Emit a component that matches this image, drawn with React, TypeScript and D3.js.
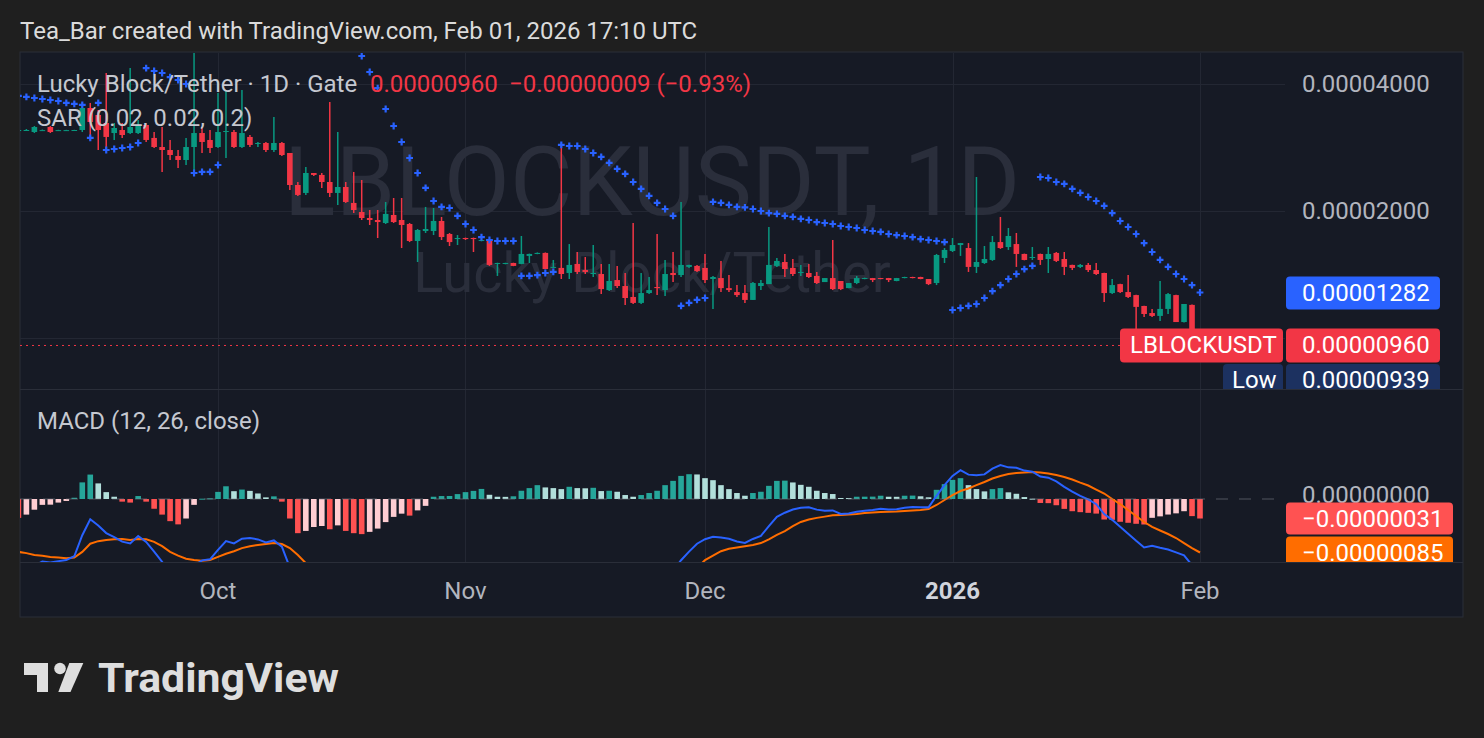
import * as d3 from 'd3';

const W = 1484;
const H = 738;
const PANE = { left: 20, right: 1285, top: 53, mainBottom: 389, macdBottom: 562, bottom: 617, edge: 1463 };

const UP = '#089981';
const DOWN = '#f23645';
const BLUE = '#2962ff';
const ORANGE = '#ff6d00';
const GRID = '#232733';
const TEXT = '#b2b5be';
const FONT = 'Roboto, sans-serif';

// first visible daily bar, 6 Sep 2025
const FIRST_BAR = new Date(Date.UTC(2025, 8, 6));

// [open, high, low, close], prices in 1e-6 USDT
const candles: [number, number, number, number][] = [
  [30.95, 31.29, 30.78, 31.12], [31.03, 31.29, 30.95, 31.12], [30.78, 31.81, 30.61, 31.63], [31.05, 31.2, 31.0, 31.1],
  [31.63, 31.81, 30.61, 30.78], [31.05, 31.15, 31.0, 31.1], [31.05, 31.15, 31.0, 31.1], [31.05, 31.15, 31.0, 31.12],
  [31.12, 36.07, 30.78, 35.09], [35.09, 36.07, 29.47, 32.51], [33.78, 34.71, 27.9, 31.12], [32.33, 42.47, 27.9, 29.96],
  [30.61, 32.33, 29.47, 31.46], [31.12, 32.33, 29.8, 30.28], [30.61, 43.64, 30.45, 31.63], [30.61, 32.86, 30.45, 31.98],
  [31.98, 32.33, 29.15, 29.47], [29.8, 30.78, 28.21, 28.36], [28.36, 31.63, 24.75, 27.9], [27.9, 29.47, 26.42, 27.15],
  [27.0, 27.9, 25.29, 26.42], [26.42, 29.8, 25.71, 28.36], [28.36, 50.86, 24.75, 30.61], [30.61, 31.63, 27.45, 29.15],
  [29.47, 31.12, 27.45, 28.21],
  // Oct
  [28.36, 38.08, 28.21, 30.78], [30.78, 38.71, 26.71, 30.95], [30.78, 31.12, 28.21, 28.36], [28.36, 38.71, 28.21, 30.61],
  [29.96, 30.28, 28.36, 28.68], [28.83, 29.15, 28.36, 28.99], [28.99, 29.15, 27.6, 27.9], [27.9, 33.41, 27.6, 28.99],
  [28.99, 29.15, 27.0, 27.15], [27.45, 27.45, 22.43, 23.05], [23.05, 23.43, 21.71, 21.83], [22.07, 25.43, 21.83, 24.61],
  [24.61, 24.61, 24.21, 24.35], [24.35, 24.61, 22.68, 23.43], [23.43, 36.26, 21.59, 22.07], [22.07, 30.78, 20.67, 22.8],
  [22.8, 23.43, 20.9, 21.01], [20.9, 24.75, 19.78, 20.11], [19.89, 23.69, 19.04, 19.25], [19.25, 20.11, 18.53, 19.04],
  [19.04, 20.11, 17.26, 18.83], [18.73, 21.01, 18.63, 19.68], [19.57, 21.47, 18.73, 18.83], [19.04, 21.47, 16.34, 18.53],
  [18.63, 18.73, 16.88, 16.98], [16.98, 18.13, 15.14, 18.03], [17.93, 20.45, 17.74, 18.13], [17.93, 20.33, 17.54, 18.94],
  [18.94, 19.36, 17.07, 17.35], [17.64, 17.74, 16.52, 16.88], [17.16, 17.54, 16.61, 17.26],
  // Nov
  [17.26, 17.3, 17.07, 17.16], [17.26, 17.3, 15.99, 17.16], [16.98, 17.1, 16.95, 17.07], [16.98, 17.07, 14.82, 14.9],
  [14.98, 15.08, 14.03, 15.06], [14.98, 15.08, 14.95, 15.06], [15.06, 15.08, 14.8, 14.82], [14.98, 17.45, 14.95, 15.82],
  [15.65, 15.85, 15.06, 15.82], [15.82, 15.95, 15.8, 15.91], [15.91, 15.95, 14.55, 14.57], [14.66, 15.31, 14.64, 14.74],
  [14.66, 28.83, 13.8, 14.18], [14.26, 16.7, 13.8, 14.9], [14.98, 15.99, 14.18, 14.34], [14.49, 15.56, 14.18, 14.34],
  [14.18, 16.61, 13.95, 14.26], [14.18, 14.98, 12.71, 13.06], [12.99, 14.98, 12.92, 13.65], [13.72, 14.82, 13.13, 13.28],
  [13.28, 14.26, 11.98, 12.44], [12.51, 18.73, 12.04, 12.11], [12.11, 14.26, 12.04, 12.78], [12.78, 13.95, 12.71, 12.99],
  [13.21, 17.64, 12.64, 13.13], [12.99, 15.31, 12.57, 14.18], [14.26, 15.99, 13.57, 14.1], [14.1, 21.01, 13.95, 14.9],
  [14.74, 14.92, 14.66, 14.9], [14.82, 14.9, 14.34, 14.41],
  // Dec
  [14.66, 15.82, 13.5, 13.72], [13.8, 14.03, 11.72, 13.95], [13.87, 15.23, 12.85, 13.13], [13.13, 14.1, 12.85, 12.99],
  [12.85, 13.35, 12.51, 12.64], [12.78, 13.35, 12.11, 12.31], [12.31, 13.57, 12.31, 13.5], [13.28, 13.72, 12.99, 13.5],
  [13.42, 18.33, 13.42, 14.9], [14.82, 15.48, 14.74, 15.23], [15.14, 15.82, 13.95, 14.57], [14.66, 15.39, 14.03, 14.18],
  [14.26, 14.9, 14.03, 14.34], [14.26, 14.98, 13.87, 13.95], [14.03, 14.34, 13.42, 13.5], [13.57, 13.87, 13.57, 13.87],
  [13.87, 17.07, 12.99, 13.06], [13.65, 13.65, 12.99, 13.06], [13.13, 13.5, 13.13, 13.5], [13.5, 14.03, 13.42, 13.87],
  [13.8, 13.9, 13.78, 13.87], [13.87, 13.88, 13.57, 13.72], [13.87, 13.88, 13.78, 13.8], [13.87, 13.88, 13.57, 13.72],
  [13.65, 13.88, 13.63, 13.87], [13.87, 13.97, 13.85, 13.95], [13.95, 13.97, 13.85, 13.87], [13.95, 13.97, 13.78, 13.8],
  [13.8, 13.8, 13.35, 13.42], [13.5, 15.82, 13.35, 15.73], [15.48, 16.34, 15.06, 16.17],
  // Jan
  [16.08, 17.26, 15.99, 16.61], [16.61, 16.8, 15.65, 16.79], [16.34, 16.79, 14.34, 14.74], [14.74, 24.08, 14.26, 15.14],
  [15.06, 16.52, 14.98, 15.39], [15.31, 17.45, 15.23, 16.88], [16.88, 19.36, 16.26, 16.34], [16.43, 18.23, 16.17, 17.45],
  [16.7, 17.74, 14.74, 15.82], [15.82, 15.85, 15.28, 15.31], [15.48, 16.43, 15.31, 15.56], [15.82, 15.85, 14.9, 15.31],
  [15.39, 16.43, 14.26, 15.82], [15.91, 15.99, 15.14, 15.23], [15.39, 15.99, 14.1, 14.74], [14.9, 14.92, 14.49, 14.66],
  [14.74, 14.98, 14.66, 14.9], [14.9, 15.06, 14.34, 14.49], [14.49, 15.06, 14.1, 14.18], [14.26, 14.28, 12.17, 12.78],
  [12.78, 13.8, 12.71, 13.35], [13.42, 13.44, 12.78, 12.85], [12.85, 14.1, 12.44, 12.51], [12.64, 12.66, 10.17, 11.85],
  [11.91, 11.93, 11.21, 11.4], [11.46, 11.72, 11.21, 11.28], [11.28, 13.65, 10.97, 11.72], [11.72, 12.78, 11.4, 12.71],
  [12.64, 12.66, 10.91, 10.91], [10.91, 12.04, 10.89, 12.04], [11.98, 12.0, 9.45, 9.69],
  // Feb 1
  [9.69, 9.72, 9.39, 9.6],
];

// Parabolic SAR (0.02, 0.02, 0.2), same bars, 1e-6 USDT
const sar = [
  37.47, 37.27, 37.06, 36.86, 36.66, 36.46, 36.07, 35.87, 35.68, 29.8, 36.07, 27.9, 28.05, 28.21, 28.36, 28.99,
  43.64, 42.94, 42.47, 41.55, 40.88, 40.0, 24.61, 24.75, 24.75,
  25.71, 50.9, 50.7, 50.5, 50.3, 50.1, 49.9, 49.7, 49.6, 49.5, 49.4, 49.3, 49.2, 49.1, 49.0, 48.9, 48.8, 48.7,
  46.61, 42.71, 39.13, 34.9, 31.81, 29.15, 26.71, 24.61, 22.68, 21.12, 20.45, 20.33, 19.47, 18.63, 18.03,
  17.35, 17.07, 16.98, 16.98, 16.98, 14.03, 14.03, 14.1, 14.26, 14.34, 28.68, 28.52, 28.52, 28.05, 27.45,
  26.86, 26.0, 25.16, 24.48, 23.43, 22.56, 21.71, 20.9, 20.22, 19.47, 11.91, 12.11, 12.31, 12.44,
  21.01, 20.9, 20.67, 20.45, 20.4, 20.22, 20.0, 19.78, 19.68, 19.47, 19.36, 19.15, 19.04, 18.83, 18.73,
  18.63, 18.43, 18.33, 18.23, 18.03, 17.93, 17.84, 17.64, 17.54, 17.45, 17.35, 17.16, 17.07, 16.98, 16.88,
  11.65, 11.78, 11.91, 12.04, 12.44, 12.92, 13.35, 13.8, 14.18, 14.57, 14.82,
  24.08, 23.95, 23.43, 23.18, 22.56, 22.07, 21.59, 21.12, 20.56, 19.78, 18.94, 18.33, 17.64, 16.79, 15.99,
  15.31, 14.74, 14.18, 13.8, 13.35, 12.82,
];

// MACD (12, 26, close), values in 1e-8
const macdHist = [
  -30, -24.8, -17, -9.3, -9.0, -5.7, -3.1, 2, 26.4, 38.8, 24.8, 10.9, 3.6, -4.2, -5.7, 4.7, -4.2, -15.5, -24.8,
  -35.2, -40.3, -31, -9.3, 0.5, 1.1,
  11.3, 20.2, 12.4, 15, 12.9, 8.8, 2.6, 4.2, -4.2, -31, -54.3, -50.7, -44.5, -42.9, -48.1, -41.9, -50.7, -54.3,
  -55.8, -52.2, -47, -36.7, -28.4, -23.3, -26.4, -18.1, -10.9, 3.6, 4.7, 4.8, 7.8, 10.9, 12.9, 16, 6.7, 3.6,
  3.4, 4.3, 13.1, 17.3, 22, 18.4, 17.3, 15.7, 19.4, 17.3, 17.0, 17.8, 12.6, 13.1, 11.5, 6.3, 3.6, 6.3, 9.5,
  13.1, 22, 28.8, 36.7, 39.4, 39.0, 33.1, 29.9, 22, 15.7, 9.5, 5.2, 9.5, 11.5, 20.9, 28.8, 29.2, 26.3, 22.5,
  19.4, 13.1, 9.5, 7.9, 1.6, 1.5, 3.6, 3.7, 3.8, 5.2, 3.6, 3.5, 5.2, 5.4, 4.3, 2.7, 14.6, 23.6, 30.4, 33.1,
  22, 15.7, 12.1, 15.7, 17.3, 10.6, 8.3, 3.1, 0.5, -6.3, -6.6, -9.9, -15.7, -19.4, -20.9, -22, -23.2, -32.6,
  -33.1, -36.2, -37.8, -39.4, -40.5, -29.9, -27.6, -24.7, -22.8, -19.4, -27.2, -31,
];

const macdSignal = [
  -84, -86, -89, -90, -92, -93, -94, -93, -84, -71, -67, -65, -64, -63.5, -65, -63.5, -64, -68, -75, -84, -90,
  -95, -97, -98, -97,
  -92, -87, -83, -78, -75, -73, -71.5, -70, -71.5, -78, -89, -102, -112, -122, -133, -143, -155, -167, -180,
  -192, -203, -212, -219, -225, -231, -235, -239, -238, -237, -236, -234, -231, -228, -224, -222, -221, -220,
  -219, -216, -212, -206, -201, -197, -193, -188, -184, -180, -175, -172, -169, -166, -164, -163, -161, -159,
  -156, -150, -143, -134, -123, -110, -97, -90, -83, -79, -77, -75, -73, -70, -64, -57, -51, -43, -36.5,
  -32.5, -30, -28, -26, -25.4, -24.6, -23.8, -22.2, -21.4, -20.6, -20.2, -19.8, -19, -18.3, -17.5, -16, -9.5,
  -1.6, 6.3, 12.7, 16.7, 22, 27, 32.5, 36.5, 39.7, 41.3, 42, 42.9, 42, 40.5, 38, 35, 31, 26, 21.4, 15, 8.7,
  0, -8, -17.5, -27, -36.5, -44.4, -50, -55.6, -62, -70, -78, -85,
];

const macdLine = [
  -114, -110.8, -106, -99.3, -101, -98.7, -97.1, -91, -57.6, -32.2, -42.2, -54.1, -60.4, -67.7, -70.7, -58.8,
  -68.2, -83.5, -99.8, -119.2, -130.3, -126, -106.3, -97.5, -95.9,
  -80.7, -66.8, -70.6, -63, -62.1, -64.2, -68.9, -65.8, -75.7, -109, -143.3, -152.7, -156.5, -164.9, -181.1,
  -184.9, -205.7, -221.3, -235.8, -244.2, -250, -248.7, -247.4, -248.3, -257.4, -253.1, -249.9, -234.4,
  -232.3, -231.2, -226.2, -220.1, -215.1, -208, -215.3, -217.4, -216.6, -214.7, -202.9, -194.7, -184,
  -182.6, -179.7, -177.3, -168.6, -166.7, -163, -157.2, -159.4, -155.9, -154.5, -157.7, -159.4, -154.7,
  -149.5, -142.9, -128, -114.2, -97.3, -83.6, -71, -63.9, -60.1, -61, -63.3, -67.5, -69.8, -63.5, -58.5,
  -43.1, -28.2, -21.8, -16.7, -14, -13.1, -16.9, -18.5, -18.1, -23.8, -23.1, -20.2, -18.5, -17.6, -15.4,
  -16.6, -16.3, -13.8, -12.9, -13.2, -13.3, 5.1, 22, 36.7, 45.8, 38.7, 37.7, 39.1, 48.2, 53.8, 50.3, 49.6,
  45.1, 43.4, 35.7, 33.9, 28.1, 19.3, 11.6, 5.1, -0.6, -8.2, -23.9, -33.1, -44.2, -55.3, -66.4, -77, -74.3,
  -77.6, -80.3, -84.8, -89.4, -105.2, -116,
];

const timeTicks = [
  { date: new Date(Date.UTC(2025, 9, 1)), label: 'Oct', bold: false },
  { date: new Date(Date.UTC(2025, 10, 1)), label: 'Nov', bold: false },
  { date: new Date(Date.UTC(2025, 11, 1)), label: 'Dec', bold: false },
  { date: new Date(Date.UTC(2026, 0, 1)), label: '2026', bold: true },
  { date: new Date(Date.UTC(2026, 1, 1)), label: 'Feb', bold: false },
];
const gridPrices = [40, 20, 10];
// the 0.00001000 label sits under the last-price tag, so only these two are readable
const priceLabels = [40, 20];

const fmtPrice = (v: number) => (v * 1e-6).toFixed(8);
const fmtMacd = (v: number) => (v * 1e-8).toFixed(8).replace('-', '\u2212');

function histColor(v: number, prev: number) {
  if (v >= 0) return prev < v ? '#26a69a' : '#b2dfdb';
  return prev < v ? '#ffcdd2' : '#ff5252';
}

export default function App() {
  const x = d3.scaleUtc()
    .domain([timeTicks[0].date, timeTicks[timeTicks.length - 1].date])
    .range([218, 1200]);
  const y = d3.scaleLog().domain([20, 40]).range([211, 84]);
  const ym = d3.scaleLinear().domain([-85, 0]).range([552.5, 499]);
  const barX = (i: number) => x(d3.utcDay.offset(FIRST_BAR, i));

  const bodyW = 5.6;
  const last = candles[candles.length - 1];
  const prevClose = candles[candles.length - 2][3];
  const change = last[3] - prevClose;
  const lowest = d3.min(candles, (c) => c[2]) as number;
  const lastSar = sar[sar.length - 1];
  const lastHist = macdHist[macdHist.length - 1];
  const lastSignal = macdSignal[macdSignal.length - 1];

  const sarPath = sar.map((v, i) => {
    const cx = barX(i), cy = y(v), r = 3.4;
    return `M${cx - r},${cy}H${cx + r}M${cx},${cy - r}V${cy + r}`;
  }).join('');

  const lineGen = d3.line<number>().x((_, i) => barX(i)).y((v) => ym(v));

  const mainH = PANE.mainBottom - PANE.top;
  const plotW = PANE.right - PANE.left;

  return (
    <svg width={W} height={H} style={{ position: 'absolute', left: 0, top: 0, display: 'block' }}
      fontFamily={FONT}>
      <defs>
        <clipPath id="mainClip"><rect x={PANE.left} y={PANE.top} width={plotW} height={mainH} /></clipPath>
        <clipPath id="macdClip">
          <rect x={PANE.left} y={PANE.mainBottom} width={plotW} height={PANE.macdBottom - PANE.mainBottom} />
        </clipPath>
        <clipPath id="mainAxisClip"><rect x={0} y={PANE.top} width={PANE.edge} height={mainH} /></clipPath>
        <clipPath id="macdAxisClip">
          <rect x={0} y={PANE.mainBottom} width={PANE.edge} height={PANE.macdBottom - PANE.mainBottom} />
        </clipPath>
      </defs>

      <rect width={W} height={H} fill="#1f1f1f" />
      <text x={20} y={39} fontSize={24} fill="#dbdbdb">Tea_Bar created with TradingView.com, Feb 01, 2026 17:10 UTC</text>

      <rect x={PANE.left} y={PANE.top - 1} width={PANE.edge - PANE.left} height={PANE.bottom - PANE.top + 1}
        fill="#161a25" stroke="#2a2e39" />

      {/* grid */}
      <g stroke={GRID} strokeWidth={1}>
        {timeTicks.map((t) => (
          <line key={t.label} x1={Math.round(x(t.date)) + 0.5} x2={Math.round(x(t.date)) + 0.5}
            y1={PANE.top} y2={PANE.macdBottom} />
        ))}
        {gridPrices.map((p) => (
          <line key={p} x1={PANE.left} x2={PANE.right} y1={Math.round(y(p)) + 0.5} y2={Math.round(y(p)) + 0.5} />
        ))}
      </g>

      {/* watermark */}
      <g clipPath="url(#mainClip)" fill="#2a2e3b" textAnchor="middle">
        <text x={652} y={215} fontSize={96}>LBLOCKUSDT, 1D</text>
        <text x={652} y={292} fontSize={56}>Lucky Block/Tether</text>
      </g>

      {/* main pane */}
      <g clipPath="url(#mainClip)">
        <line x1={PANE.left} x2={1120} y1={y(last[3])} y2={y(last[3])} stroke={DOWN} strokeDasharray="2 4" />
        {candles.map(([o, h, l, c], i) => {
          const cx = barX(i);
          const col = c >= o ? UP : DOWN;
          const top = Math.min(y(o), y(c));
          const bh = Math.max(1, Math.abs(y(o) - y(c)));
          return (
            <g key={i}>
              <line x1={cx} x2={cx} y1={y(h)} y2={y(l)} stroke={col} strokeWidth={1.5} />
              <rect x={cx - bodyW / 2} y={top} width={bodyW} height={bh} fill={col} />
            </g>
          );
        })}
        <path d={sarPath} stroke={BLUE} strokeWidth={2.2} fill="none" />
      </g>

      {/* legend */}
      <g fontSize={24} dominantBaseline="central">
        <text x={37} y={84} fill="#c5c8d0">Lucky Block/Tether · 1D · Gate</text>
        <text x={370} y={84} fill={DOWN}>{fmtPrice(last[3])}</text>
        <text x={509} y={84} fill={DOWN}>
          {`${fmtPrice(change).replace('-', '\u2212')} (${(change / prevClose * 100).toFixed(2).replace('-', '\u2212')}%)`}
        </text>
        <text x={37} y={118} fill="#c5c8d0">SAR (0.02, 0.02, 0.2)</text>
        <text x={37} y={421} fill="#c5c8d0">MACD (12, 26, close)</text>
      </g>

      {/* price scale */}
      <g fontSize={24} dominantBaseline="central" clipPath="url(#mainAxisClip)">
        {priceLabels.map((p) => (
          <text key={p} x={1302} y={y(p)} fill={TEXT}>{fmtPrice(p)}</text>
        ))}
        <rect x={1286} y={y(lastSar) - 16} width={154} height={33} rx={4} fill={BLUE} />
        <text x={1302} y={y(lastSar) + 0.5} fill="#fff">{fmtPrice(lastSar)}</text>
        <rect x={1120} y={y(last[3]) - 17} width={163} height={34} rx={4} fill={DOWN} />
        <text x={1130} y={y(last[3])} fill="#fff">LBLOCKUSDT</text>
        <rect x={1286} y={y(last[3]) - 17} width={154} height={34} rx={4} fill={DOWN} />
        <text x={1302} y={y(last[3])} fill="#fff">{fmtPrice(last[3])}</text>
        <rect x={1223} y={364} width={60} height={34} rx={4} fill="#1c3160" />
        <text x={1232} y={380} fill="#fff">Low</text>
        <rect x={1286} y={364} width={154} height={34} rx={4} fill="#1c3160" />
        <text x={1302} y={380} fill="#fff">{fmtPrice(lowest)}</text>
      </g>

      {/* MACD pane */}
      <g clipPath="url(#macdClip)">
        {macdHist.map((v, i) => {
          const cx = barX(i);
          const y0 = ym(0), y1 = ym(v);
          return (
            <rect key={i} x={cx - bodyW / 2} y={Math.min(y0, y1)} width={bodyW}
              height={Math.max(1, Math.abs(y1 - y0))} fill={histColor(v, i ? macdHist[i - 1] : v)} />
          );
        })}
        <path d={lineGen(macdSignal) as string} fill="none" stroke={ORANGE} strokeWidth={2} />
        <path d={lineGen(macdLine) as string} fill="none" stroke={BLUE} strokeWidth={2} />
      </g>
      <line x1={PANE.left} x2={PANE.right} y1={ym(0)} y2={ym(0)} stroke="#787b86" strokeOpacity={0.6}
        strokeDasharray="12 11" />
      <g fontSize={24} dominantBaseline="central" clipPath="url(#macdAxisClip)">
        <text x={1302} y={ym(0) - 4} fill={TEXT}>{fmtMacd(0)}</text>
        <rect x={1286} y={ym(lastHist) - 16} width={167} height={32} rx={4} fill="#ff5252" />
        <text x={1302} y={ym(lastHist)} fill="#fff">{fmtMacd(lastHist)}</text>
        <rect x={1286} y={ym(lastSignal) - 16} width={167} height={33} rx={4} fill={ORANGE} />
        <text x={1302} y={ym(lastSignal)} fill="#fff">{fmtMacd(lastSignal)}</text>
      </g>

      {/* separators */}
      <g stroke="#2a2e39">
        <line x1={PANE.left} x2={PANE.edge} y1={PANE.mainBottom + 0.5} y2={PANE.mainBottom + 0.5} />
        <line x1={PANE.left} x2={PANE.edge} y1={PANE.macdBottom + 0.5} y2={PANE.macdBottom + 0.5} />
      </g>

      {/* time axis */}
      <g fontSize={24} dominantBaseline="central" textAnchor="middle">
        {timeTicks.map((t) => (
          <text key={t.label} x={x(t.date)} y={591} fill={t.bold ? '#d1d4dc' : TEXT} fontWeight={t.bold ? 700 : 400}>
            {t.label}
          </text>
        ))}
      </g>

      {/* TradingView logo */}
      <g fill="#dedede">
        <path d="M24,663H48V692H37V675H24Z" />
        <circle cx={60} cy={668.5} r={5.8} />
        <path d="M69.3,663H83.3L70.5,692H58.3Z" />
        <text x={98} y={692} fontSize={41} fontWeight={700} textLength={241} lengthAdjust="spacingAndGlyphs">
          TradingView
        </text>
      </g>
    </svg>
  );
}
